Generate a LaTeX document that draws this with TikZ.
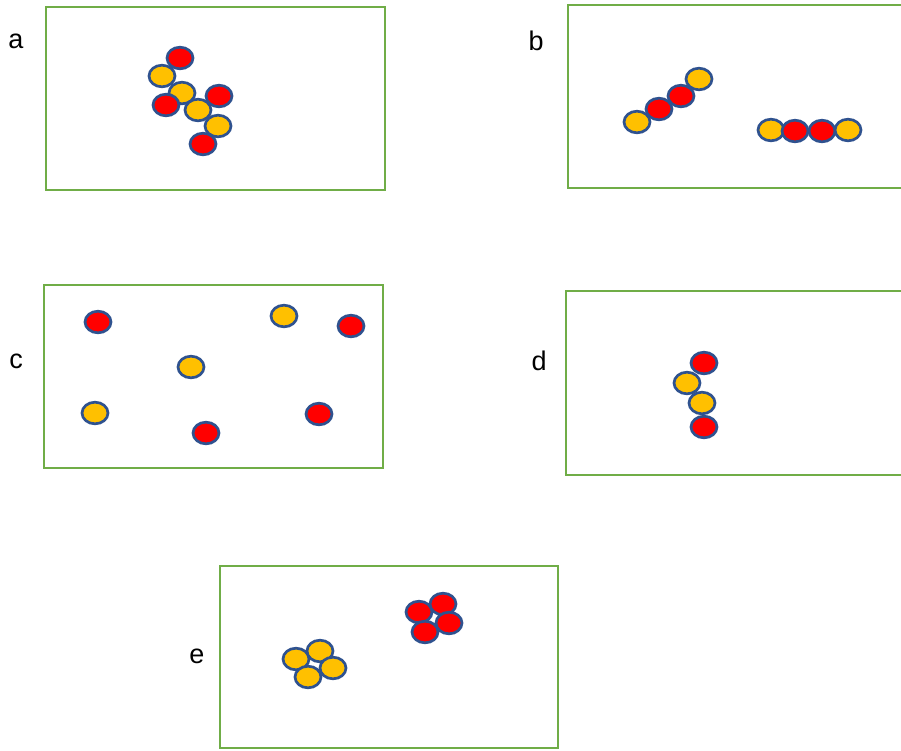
\documentclass[tikz,border=0pt]{standalone}
\usepackage{fontspec}
\setmainfont{Liberation Sans}
\usetikzlibrary{shapes.geometric}
\definecolor{boxgreen}{HTML}{70AD47}
\definecolor{ballline}{HTML}{2F528F}
\definecolor{ballred}{HTML}{FF0000}
\definecolor{ballgold}{HTML}{FFC000}
\tikzset{
  panel/.style={draw=boxgreen, line width=2.8pt},
  ball/.style={ellipse, draw=ballline, line width=2.7pt, minimum width=26pt, minimum height=21.6pt, inner sep=0pt},
  rb/.style={ball, fill=ballred},
  gb/.style={ball, fill=ballgold},
  lab/.style={anchor=base, inner sep=0pt, font=\fontsize{27}{30}\selectfont}
}
\begin{document}
\begin{tikzpicture}[x=1pt,y=-1pt]
\useasboundingbox (0,0) rectangle (901,750);
\clip (0,0) rectangle (901,750);
% panels
\draw[panel] (46,7) rectangle (385,190);
\draw[panel] (568,5) rectangle (930,188);
\draw[panel] (44,285) rectangle (383,468);
\draw[panel] (566,291) rectangle (930,475);
\draw[panel] (220,566) rectangle (558,748);
% labels
\node[lab] (la) at (16,48) {a};
\node[lab] (lb) at (536,50) {b};
\node[lab] (lc) at (16,368) {c};
\node[lab] (ld) at (539,370) {d};
\node[lab] (le) at (197,663) {e};
% panel a
\node[gb] (a2) at (162,76) {};
\node[rb] (a1) at (180,58) {};
\node[gb] (a3) at (182,93) {};
\node[rb] (a4) at (166,105) {};
\node[gb] (a5) at (198,110) {};
\node[rb] (a6) at (219,96) {};
\node[gb] (a7) at (218,126) {};
\node[rb] (a8) at (203,144) {};
% panel b
\node[gb] (b1) at (637,122) {};
\node[rb] (b2) at (659,109) {};
\node[rb] (b3) at (681,96) {};
\node[gb] (b4) at (699,79) {};
\node[gb] (b5) at (771,130) {};
\node[rb] (b6) at (795,131) {};
\node[rb] (b7) at (822,131) {};
\node[gb] (b8) at (848,130) {};
% panel c
\node[rb] (c1) at (98,322) {};
\node[gb] (c2) at (284,316) {};
\node[rb] (c3) at (351,326) {};
\node[gb] (c4) at (191,367) {};
\node[gb] (c5) at (95,413) {};
\node[rb] (c6) at (206,433) {};
\node[rb] (c7) at (319,414) {};
% panel d
\node[rb] (d1) at (704,363) {};
\node[gb] (d2) at (687,383) {};
\node[gb] (d3) at (702,403) {};
\node[rb] (d4) at (704,427) {};
% panel e
\node[gb] (e1) at (296,659) {};
\node[gb] (e2) at (320,651) {};
\node[gb] (e3) at (333,668) {};
\node[gb] (e4) at (308,677) {};
\node[rb] (e5) at (419,612) {};
\node[rb] (e6) at (443,604) {};
\node[rb] (e7) at (449,623) {};
\node[rb] (e8) at (425,632) {};
\end{tikzpicture}
\end{document}
